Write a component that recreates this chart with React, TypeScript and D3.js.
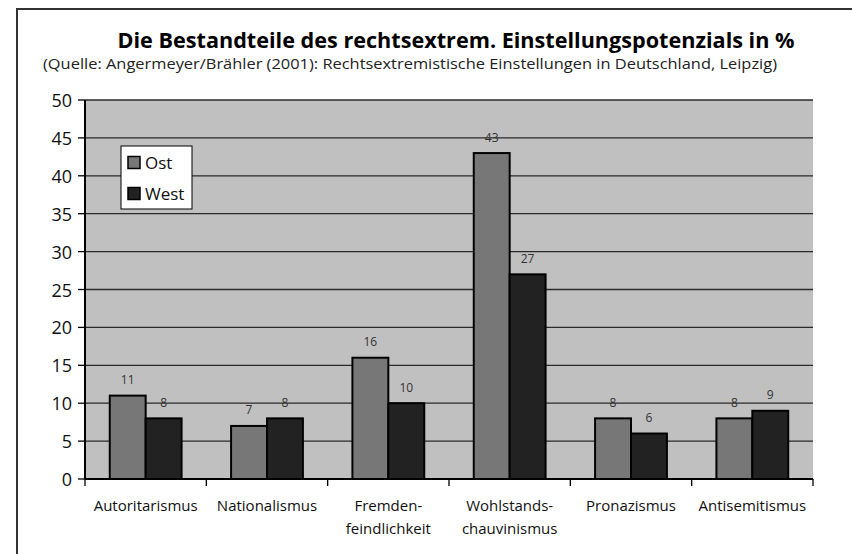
import * as d3 from 'd3';

// Daten: Angermeyer/Brähler (2001)
const categories = [
  ['Autoritarismus'],
  ['Nationalismus'],
  ['Fremden-', 'feindlichkeit'],
  ['Wohlstands-', 'chauvinismus'],
  ['Pronazismus'],
  ['Antisemitismus'],
];
const seriesNames = ['Ost', 'West'];
const ost = [11, 7, 16, 43, 8, 8];
const west = [8, 8, 10, 27, 6, 9];
const yTicks = [0, 5, 10, 15, 20, 25, 30, 35, 40, 45, 50];

const W = 852;
const H = 554;
const FONT = '"Open Sans", "Noto Sans", sans-serif';
const COLORS = ['#777777', '#222222'];

export default function App() {
  const plot = { left: 85, right: 813, top: 100, bottom: 479 };

  const x = d3.scaleBand<number>()
    .domain(d3.range(categories.length))
    .range([plot.left, plot.right])
    .padding(0);

  const barW = x.bandwidth() * 0.296;
  const xs = d3.scaleBand<number>()
    .domain([0, 1])
    .range([x.bandwidth() / 2 - barW, x.bandwidth() / 2 + barW]);

  const y = d3.scaleLinear().domain([0, 50]).range([plot.bottom, plot.top]);

  const series = [ost, west];
  const boundaries = d3.range(categories.length + 1).map(i =>
    i < categories.length ? x(i)! : plot.right);

  return (
    <svg width={W} height={H} style={{ position: 'absolute', left: 0, top: 0, background: '#fff' }}
      fontFamily={FONT}>
      {/* Rahmen */}
      <path d={`M17,${H} V9 H${W}`} fill="none" stroke="#333" strokeWidth={2} />

      {/* Titel */}
      <text x={456} y={48} textAnchor="middle" fontSize={21} fontWeight={700}
        textLength={677} lengthAdjust="spacingAndGlyphs" fill="#000">
        Die Bestandteile des rechtsextrem. Einstellungspotenzials in %
      </text>
      <text x={410} y={69} textAnchor="middle" fontSize={14}
        textLength={734} lengthAdjust="spacingAndGlyphs" fill="#222">
        (Quelle: Angermeyer/Brähler (2001): Rechtsextremistische Einstellungen in Deutschland, Leipzig)
      </text>

      {/* Plotfläche */}
      <rect x={plot.left} y={plot.top} width={plot.right - plot.left}
        height={plot.bottom - plot.top} fill="#c0c0c0" />

      {/* Gitter */}
      {yTicks.filter(t => t > 0).map(t => (
        <line key={t} x1={plot.left} x2={plot.right} y1={y(t)} y2={y(t)}
          stroke="#2a2a2a" strokeWidth={1.3} />
      ))}

      {/* Balken */}
      {series.map((vals, s) => vals.map((v, i) => (
        <rect key={`${s}-${i}`}
          x={x(i)! + xs(s)!} y={y(v)}
          width={xs.bandwidth()} height={y(0) - y(v)}
          fill={COLORS[s]} stroke="#000" strokeWidth={2} />
      )))}

      {/* Werte */}
      {series.map((vals, s) => vals.map((v, i) => (
        <text key={`l${s}-${i}`}
          x={x(i)! + xs(s)! + xs.bandwidth() / 2} y={y(v) - 16}
          textAnchor="middle" dominantBaseline="central"
          fontSize={12} fill="#333">
          {v}
        </text>
      )))}

      {/* Y-Achse */}
      <line x1={plot.left} x2={plot.left} y1={plot.top} y2={plot.bottom} stroke="#000" strokeWidth={2} />
      {yTicks.map(t => (
        <g key={t}>
          <line x1={plot.left - 7} x2={plot.left} y1={y(t)} y2={y(t)} stroke="#000" strokeWidth={1.3} />
          <text x={plot.left - 13} y={y(t)} textAnchor="end" dominantBaseline="central"
            fontSize={18} fill="#111">
            {t}
          </text>
        </g>
      ))}

      {/* X-Achse */}
      <line x1={plot.left} x2={plot.right} y1={plot.bottom} y2={plot.bottom} stroke="#000" strokeWidth={2} />
      {boundaries.map((bx, i) => (
        <line key={i} x1={bx} x2={bx} y1={plot.bottom} y2={plot.bottom + 7} stroke="#000" strokeWidth={1.3} />
      ))}
      {categories.map((lines, i) => (
        <text key={i} x={x(i)! + x.bandwidth() / 2} y={505} textAnchor="middle"
          dominantBaseline="central" fontSize={15} fill="#111">
          {lines.map((ln, j) => (
            <tspan key={j} x={x(i)! + x.bandwidth() / 2} dy={j === 0 ? 0 : 23}>{ln}</tspan>
          ))}
        </text>
      ))}

      {/* Legende */}
      <rect x={121} y={146} width={71} height={63} fill="#fff" stroke="#000" strokeWidth={1} />
      {seriesNames.map((name, s) => (
        <g key={name} transform={`translate(128, ${162.5 + s * 31})`}>
          <rect x={0} y={-6} width={12} height={12} fill={COLORS[s]} stroke="#000" strokeWidth={1.5} />
          <text x={17} y={0} dominantBaseline="central" fontSize={17} fill="#111">{name}</text>
        </g>
      ))}
    </svg>
  );
}
